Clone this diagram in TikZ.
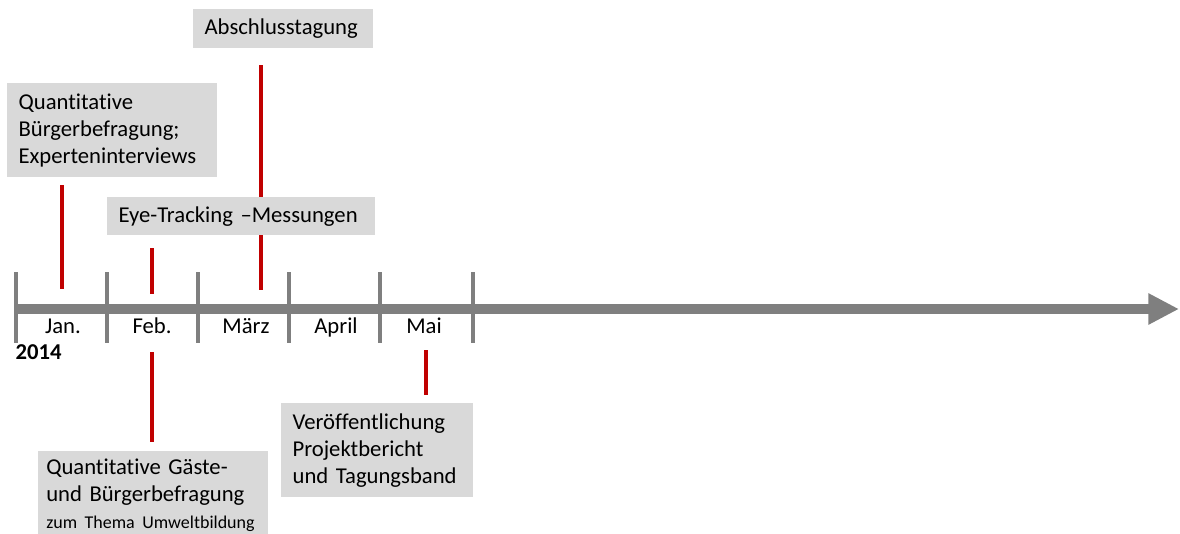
\documentclass[tikz,border=0pt]{standalone}
\usepackage{fontspec}
\setmainfont{Carlito}[Ligatures=NoCommon]
\usepackage{tikz}
\usetikzlibrary{arrows.meta}

\definecolor{boxgray}{HTML}{D9D9D9}
\definecolor{axisgray}{HTML}{7F7F7F}
\definecolor{markred}{HTML}{C00000}

\begin{document}
\begin{tikzpicture}
[
x=0.75pt, y=-0.75pt,
event/.style={rectangle, fill=boxgray, anchor=north west, align=left, inner xsep=8.5pt, inner ysep=0pt, font=\fontsize{17}{20.2}\selectfont},
month/.style={anchor=base, font=\fontsize{17}{20}\selectfont},
tick/.style={draw=axisgray, line width=3pt},
axis/.style={draw=axisgray, line width=7.5pt, -{Triangle[length=23pt,width=22pt]}},
marker/.style={draw=markred, line width=3pt}
]
\useasboundingbox (0,0) rectangle (1180,533);
\clip (0,0) rectangle (1180,533);

%Axis
\coordinate (axstart) at (15,309);
\coordinate (axend)   at (1179,309);
\draw[axis] (axstart) -- (axend);
\foreach \x in {16,107,198,289,380,473}
  \draw[tick] (\x,272) -- (\x,343);

%Months
\node[month] (jan)   at (63,333)  {Jan.};
\node[month] (feb)   at (152,333) {Feb.};
\node[month] (maerz) at (246,333) {März};
\node[month] (april) at (336,333) {April};
\node[month] (mai)   at (424,333) {Mai};
\node[anchor=base west, font=\fontsize{17}{20}\selectfont\bfseries] (year) at (11,359) {2014};

%Red marks
\coordinate (jan top)      at (62,185);
\coordinate (jan bot)      at (62,289);
\coordinate (feb top)      at (152,248);
\coordinate (feb bot)      at (152,294);
\coordinate (maerz top)    at (261,65);
\coordinate (maerz bot)    at (261,290);
\coordinate (feblow top)   at (152,352);
\coordinate (feblow bot)   at (152,442);
\coordinate (mai top)      at (426,350);
\coordinate (mai bot)      at (426,395);
\draw[marker] (jan top) -- (jan bot);
\draw[marker] (feb top) -- (feb bot);
\draw[marker] (maerz top) -- (maerz bot);
\draw[marker] (feblow top) -- (feblow bot);
\draw[marker] (mai top) -- (mai bot);

%Events
\node[event, text width=118pt, minimum height=29.25pt] (tagung) at (193,9)  {Abschlusstagung};
\node[event, text width=140.5pt, minimum height=70.5pt] (befragung) at (7,83) {Quantitative\\Bürgerbefragung;\\Experteninterviews};
\node[event, text width=184pt, minimum height=28.5pt] (tracking) at (107,197) {Eye-Tracking –Messungen};
\node[event, inner xsep=6pt, text width=160pt, minimum height=66pt] (gaeste) at (38,451) {\mbox{Quantitative Gäste-}\\\mbox{und Bürgerbefragung}\\\mbox{\fontsize{13.5}{17}\selectfont zum Thema Umweltbildung}};
\node[event, text width=127pt, minimum height=70.5pt] (bericht) at (281,403) {Veröffentlichung\\Projektbericht\\und Tagungsband};

\end{tikzpicture}
\end{document}
